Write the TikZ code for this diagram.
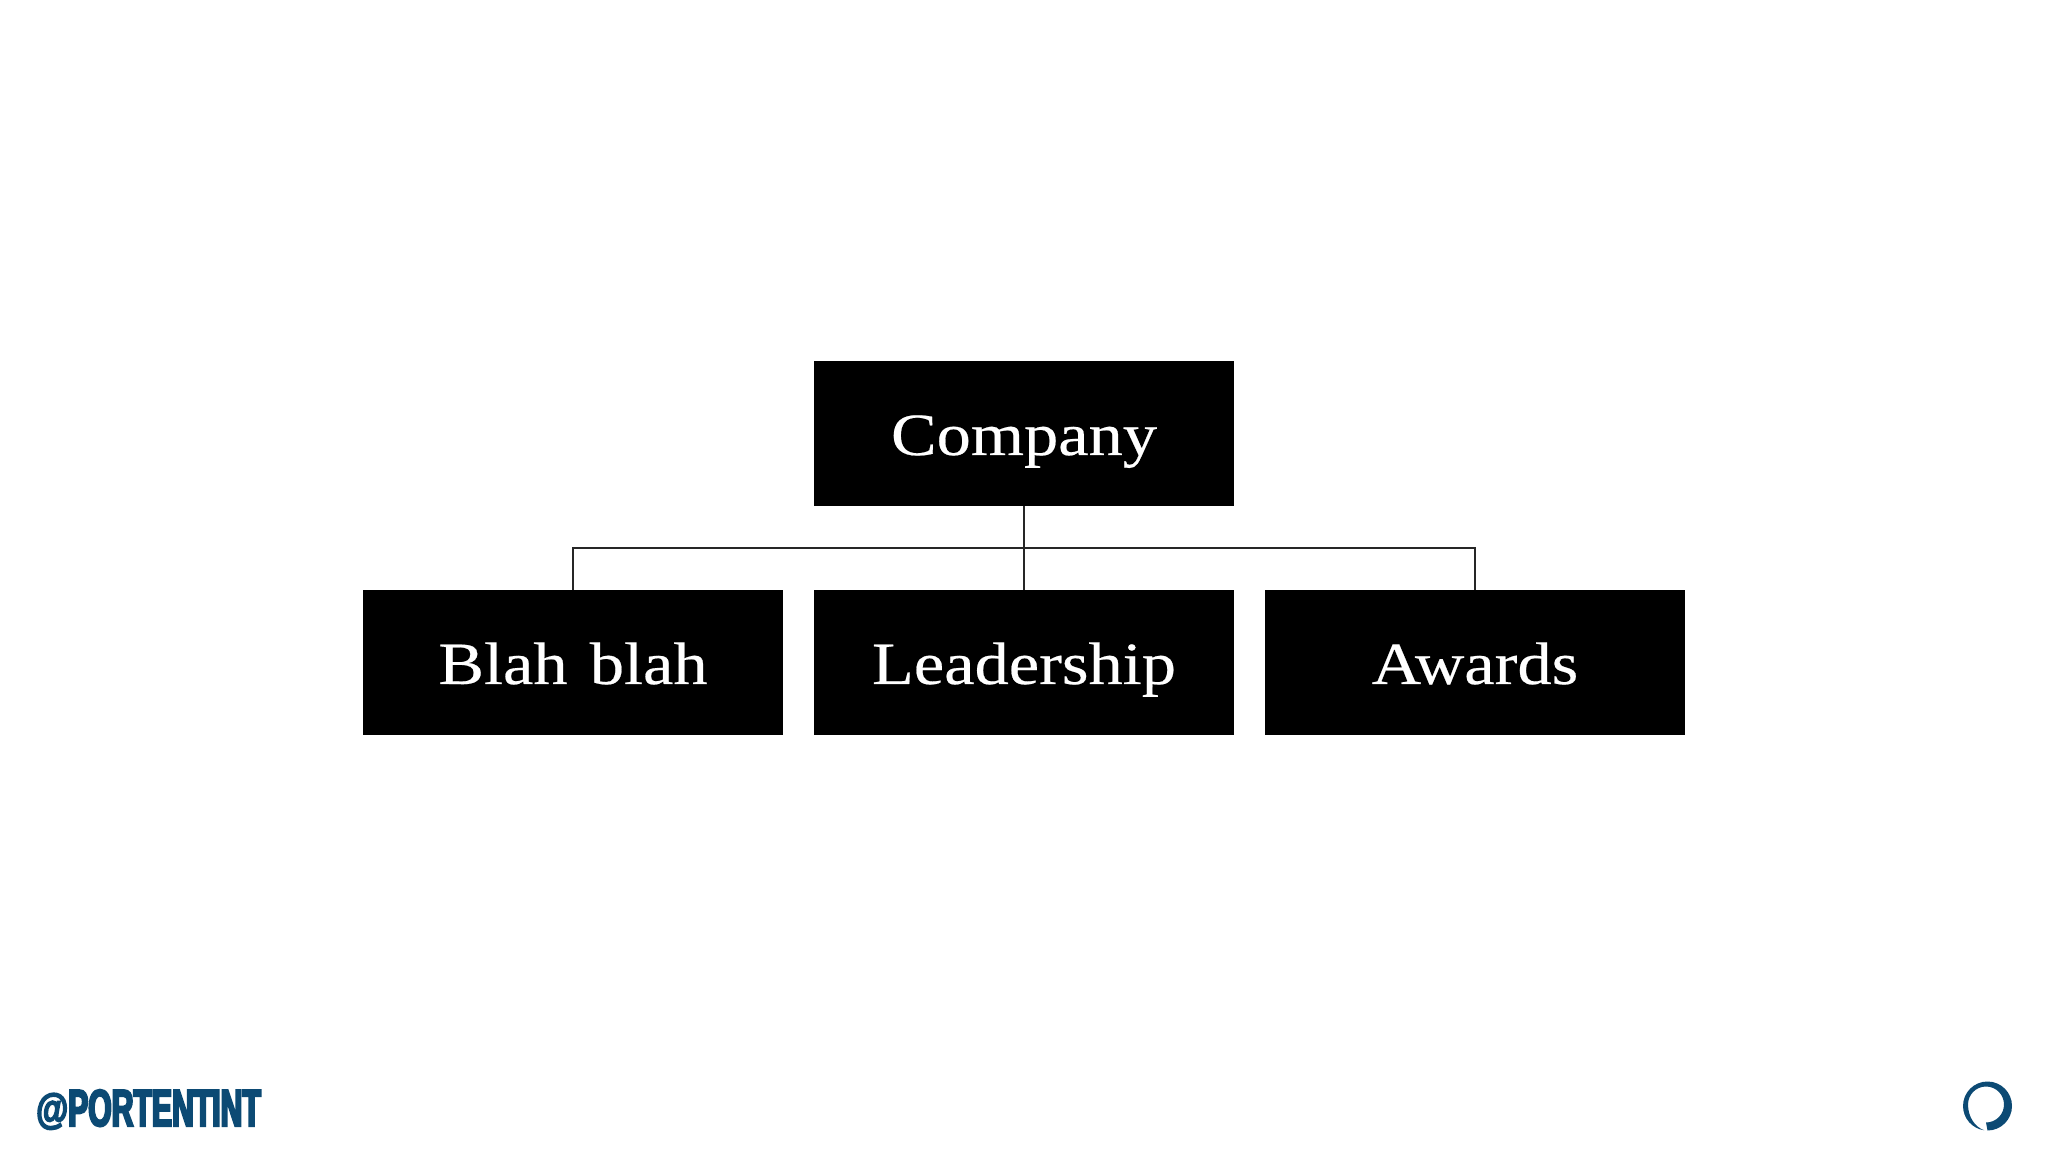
\documentclass[tikz,border=0pt]{standalone}
\usepackage{fontspec}
\newfontfamily\boxfont[FakeStretch=1.14,FakeBold=0.35,WordSpace=1.3]{Liberation Serif}
\newfontfamily\logofont[FakeStretch=0.58,FakeBold=4]{Liberation Sans Bold}
\newfontfamily\logoatfont[FakeStretch=0.78,FakeBold=4]{Liberation Sans Bold}
\definecolor{brand}{HTML}{0C4A74}
\tikzset{
  orgbox/.style={fill=black,draw=none,text=white,minimum width=420.5pt,minimum height=145pt,inner sep=0pt,
    font=\boxfont\fontsize{60}{60}\selectfont,text height=51.5pt,text depth=8.5pt,align=center},
  link/.style={draw=black!85,line width=1.3pt}
}
\begin{document}
\begin{tikzpicture}[x=1pt,y=1pt]
\useasboundingbox (0,0) rectangle (2048,1152);
\fill[white] (0,0) rectangle (2048,1152);
\node[orgbox] (company) at (1024,718.5) {Company};
\node[orgbox] (blah) at (573,489.5) {Blah blah};
\node[orgbox] (leader) at (1024,489.5) {Leadership};
\node[orgbox] (awards) at (1475,489.5) {Awards};
\coordinate (bus) at (1024,604);
\draw[link] (company.south) -- (leader.north);
\draw[link] (blah.north) |- (bus) -| (awards.north);
\node[text=brand,font=\logofont\fontsize{52}{52}\selectfont,inner sep=0pt,anchor=base west] (logo) at (36,26)
  {\raisebox{3pt}{\logoatfont\fontsize{42}{42}\selectfont @}PORTENTINT};
\fill[brand] (1987.5,21.5) arc[start angle=-90,end angle=262,radius=24.5]
  .. controls (1975,25) and (1968,35) .. (1968,47.5)
  arc[start angle=180,end angle=-90,radius=18] -- cycle;
\end{tikzpicture}
\end{document}
